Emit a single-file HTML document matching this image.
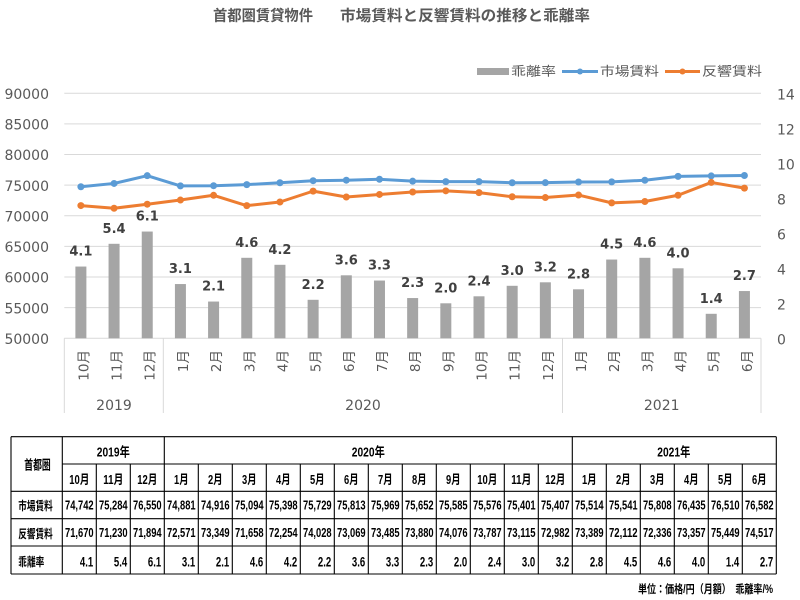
<!DOCTYPE html>
<html><head><meta charset="utf-8"><style>
html,body{margin:0;padding:0;background:#fff;}
svg{display:block;}
</style></head><body>
<svg width="800" height="600" viewBox="0 0 800 600" xmlns="http://www.w3.org/2000/svg">
<rect x="0" y="0" width="800" height="600" fill="#fff"/>
<!-- Title -->
<g font-family="'Liberation Sans','Noto Sans CJK JP',sans-serif" font-weight="bold" font-size="15" fill="#595959">
<text x="213" y="20.5" textLength="100" lengthAdjust="spacingAndGlyphs">首都圏賃貸物件</text>
<text x="340" y="20.5" textLength="250" lengthAdjust="spacingAndGlyphs">市場賃料と反響賃料の推移と乖離率</text>
</g>
<!-- Legend -->
<g font-family="'Liberation Sans','Noto Sans CJK JP',sans-serif" font-size="12.5" fill="#595959">
<rect x="477" y="68" width="32" height="7" fill="#A5A5A5"/>
<text x="511" y="75.5" textLength="45" lengthAdjust="spacingAndGlyphs">乖離率</text>
<line x1="562" y1="71.5" x2="598" y2="71.5" stroke="#5B9BD5" stroke-width="3"/>
<circle cx="580" cy="71.5" r="3" fill="#5B9BD5"/>
<text x="600" y="75.5" textLength="59" lengthAdjust="spacingAndGlyphs">市場賃料</text>
<line x1="665" y1="71.5" x2="700" y2="71.5" stroke="#ED7D31" stroke-width="3"/>
<circle cx="682.5" cy="71.5" r="3" fill="#ED7D31"/>
<text x="702" y="75.5" textLength="60" lengthAdjust="spacingAndGlyphs">反響賃料</text>
</g>
<!-- Gridlines -->
<g stroke="#D9D9D9" stroke-width="1">
<line x1="64.3" y1="93.3" x2="761" y2="93.3"/>
<line x1="64.3" y1="123.9" x2="761" y2="123.9"/>
<line x1="64.3" y1="154.55" x2="761" y2="154.55"/>
<line x1="64.3" y1="185.18" x2="761" y2="185.18"/>
<line x1="64.3" y1="215.8" x2="761" y2="215.8"/>
<line x1="64.3" y1="246.43" x2="761" y2="246.43"/>
<line x1="64.3" y1="277.05" x2="761" y2="277.05"/>
<line x1="64.3" y1="307.68" x2="761" y2="307.68"/>
<line x1="64.3" y1="338.3" x2="761" y2="338.3"/>
<line x1="64.3" y1="338.3" x2="64.3" y2="413"/>
<line x1="163.3" y1="338.3" x2="163.3" y2="413"/>
<line x1="562.5" y1="338.3" x2="562.5" y2="413"/>
<line x1="761" y1="338.3" x2="761" y2="413"/>
</g>
<!-- Left axis labels -->
<g font-family="'DejaVu Sans',sans-serif" font-size="14" fill="#595959" text-anchor="end">
<text x="49" y="99">90000</text>
<text x="49" y="129.6">85000</text>
<text x="49" y="160.2">80000</text>
<text x="49" y="190.8">75000</text>
<text x="49" y="221.4">70000</text>
<text x="49" y="252">65000</text>
<text x="49" y="282.7">60000</text>
<text x="49" y="313.3">55000</text>
<text x="49" y="343.9">50000</text>
</g>
<!-- Right axis labels -->
<g font-family="'DejaVu Sans',sans-serif" font-size="14" fill="#595959">
<text x="777" y="99.3">14</text>
<text x="777" y="134.3">12</text>
<text x="777" y="169.3">10</text>
<text x="777" y="204.3">8</text>
<text x="777" y="239.3">6</text>
<text x="777" y="274.3">4</text>
<text x="777" y="309.3">2</text>
<text x="777" y="344.3">0</text>
</g>
<!-- Bars -->
<g fill="#A5A5A5">
<rect x="75.39" y="266.55" width="11" height="71.75"/>
<rect x="108.56" y="243.8" width="11" height="94.5"/>
<rect x="141.74" y="231.55" width="11" height="106.75"/>
<rect x="174.92" y="284.05" width="11" height="54.25"/>
<rect x="208.09" y="301.55" width="11" height="36.75"/>
<rect x="241.27" y="257.8" width="11" height="80.5"/>
<rect x="274.44" y="264.8" width="11" height="73.5"/>
<rect x="307.62" y="299.8" width="11" height="38.5"/>
<rect x="340.8" y="275.3" width="11" height="63"/>
<rect x="373.97" y="280.55" width="11" height="57.75"/>
<rect x="407.15" y="298.05" width="11" height="40.25"/>
<rect x="440.32" y="303.3" width="11" height="35"/>
<rect x="473.5" y="296.3" width="11" height="42"/>
<rect x="506.68" y="285.8" width="11" height="52.5"/>
<rect x="539.85" y="282.3" width="11" height="56"/>
<rect x="573.03" y="289.3" width="11" height="49"/>
<rect x="606.2" y="259.55" width="11" height="78.75"/>
<rect x="639.38" y="257.8" width="11" height="80.5"/>
<rect x="672.56" y="268.3" width="11" height="70"/>
<rect x="705.73" y="313.8" width="11" height="24.5"/>
<rect x="738.91" y="291.05" width="11" height="47.25"/>
</g>
<!-- Bar labels -->
<g font-family="'DejaVu Sans',sans-serif" font-weight="bold" font-size="13" fill="#404040" text-anchor="middle">
<text x="80.89" y="255.5">4.1</text>
<text x="114.06" y="232.8">5.4</text>
<text x="147.24" y="220.5">6.1</text>
<text x="180.42" y="273">3.1</text>
<text x="213.59" y="290.5">2.1</text>
<text x="246.77" y="246.8">4.6</text>
<text x="279.94" y="253.8">4.2</text>
<text x="313.12" y="288.8">2.2</text>
<text x="346.3" y="264.3">3.6</text>
<text x="379.47" y="269.5">3.3</text>
<text x="412.65" y="287">2.3</text>
<text x="445.82" y="292.3">2.0</text>
<text x="479" y="285.3">2.4</text>
<text x="512.18" y="274.8">3.0</text>
<text x="545.35" y="271.3">3.2</text>
<text x="578.53" y="278.3">2.8</text>
<text x="611.7" y="248.5">4.5</text>
<text x="644.88" y="246.8">4.6</text>
<text x="678.06" y="257.3">4.0</text>
<text x="711.23" y="302.8">1.4</text>
<text x="744.41" y="280">2.7</text>
</g>
<!-- Lines -->
<polyline fill="none" stroke="#5B9BD5" stroke-width="3" stroke-linejoin="round" points="80.89,186.76 114.06,183.44 147.24,175.68 180.42,185.9 213.59,185.69 246.77,184.6 279.94,182.74 313.12,180.71 346.3,180.2 379.47,179.24 412.65,181.18 445.82,181.59 479,181.65 512.18,182.72 545.35,182.68 578.53,182.03 611.7,181.86 644.88,180.23 678.06,176.39 711.23,175.93 744.41,175.49"/>
<g fill="#5B9BD5">
<circle cx="80.89" cy="186.76" r="3.5"/><circle cx="114.06" cy="183.44" r="3.5"/><circle cx="147.24" cy="175.68" r="3.5"/><circle cx="180.42" cy="185.9" r="3.5"/><circle cx="213.59" cy="185.69" r="3.5"/><circle cx="246.77" cy="184.6" r="3.5"/><circle cx="279.94" cy="182.74" r="3.5"/><circle cx="313.12" cy="180.71" r="3.5"/><circle cx="346.3" cy="180.2" r="3.5"/><circle cx="379.47" cy="179.24" r="3.5"/><circle cx="412.65" cy="181.18" r="3.5"/><circle cx="445.82" cy="181.59" r="3.5"/><circle cx="479" cy="181.65" r="3.5"/><circle cx="512.18" cy="182.72" r="3.5"/><circle cx="545.35" cy="182.68" r="3.5"/><circle cx="578.53" cy="182.03" r="3.5"/><circle cx="611.7" cy="181.86" r="3.5"/><circle cx="644.88" cy="180.23" r="3.5"/><circle cx="678.06" cy="176.39" r="3.5"/><circle cx="711.23" cy="175.93" r="3.5"/><circle cx="744.41" cy="175.49" r="3.5"/>
</g>
<polyline fill="none" stroke="#ED7D31" stroke-width="3" stroke-linejoin="round" points="80.89,205.57 114.06,208.27 147.24,204.2 180.42,200.05 213.59,195.29 246.77,205.64 279.94,201.99 313.12,191.13 346.3,197 379.47,194.45 412.65,192.03 445.82,190.83 479,192.6 512.18,196.72 545.35,197.54 578.53,195.04 611.7,202.86 644.88,201.49 678.06,195.24 711.23,182.42 744.41,188.13"/>
<g fill="#ED7D31">
<circle cx="80.89" cy="205.57" r="3.5"/><circle cx="114.06" cy="208.27" r="3.5"/><circle cx="147.24" cy="204.2" r="3.5"/><circle cx="180.42" cy="200.05" r="3.5"/><circle cx="213.59" cy="195.29" r="3.5"/><circle cx="246.77" cy="205.64" r="3.5"/><circle cx="279.94" cy="201.99" r="3.5"/><circle cx="313.12" cy="191.13" r="3.5"/><circle cx="346.3" cy="197" r="3.5"/><circle cx="379.47" cy="194.45" r="3.5"/><circle cx="412.65" cy="192.03" r="3.5"/><circle cx="445.82" cy="190.83" r="3.5"/><circle cx="479" cy="192.6" r="3.5"/><circle cx="512.18" cy="196.72" r="3.5"/><circle cx="545.35" cy="197.54" r="3.5"/><circle cx="578.53" cy="195.04" r="3.5"/><circle cx="611.7" cy="202.86" r="3.5"/><circle cx="644.88" cy="201.49" r="3.5"/><circle cx="678.06" cy="195.24" r="3.5"/><circle cx="711.23" cy="182.42" r="3.5"/><circle cx="744.41" cy="188.13" r="3.5"/>
</g>
<!-- Month axis labels -->
<g font-family="'DejaVu Sans','Noto Sans CJK JP',sans-serif" font-size="13.5" fill="#595959" text-anchor="end">
<text transform="translate(88.4,350) rotate(-90)">10月</text>
<text transform="translate(121.6,350) rotate(-90)">11月</text>
<text transform="translate(154.7,350) rotate(-90)">12月</text>
<text transform="translate(187.9,350) rotate(-90)">1月</text>
<text transform="translate(221.1,350) rotate(-90)">2月</text>
<text transform="translate(254.3,350) rotate(-90)">3月</text>
<text transform="translate(287.4,350) rotate(-90)">4月</text>
<text transform="translate(320.6,350) rotate(-90)">5月</text>
<text transform="translate(353.8,350) rotate(-90)">6月</text>
<text transform="translate(387,350) rotate(-90)">7月</text>
<text transform="translate(420.1,350) rotate(-90)">8月</text>
<text transform="translate(453.3,350) rotate(-90)">9月</text>
<text transform="translate(486.5,350) rotate(-90)">10月</text>
<text transform="translate(519.7,350) rotate(-90)">11月</text>
<text transform="translate(552.8,350) rotate(-90)">12月</text>
<text transform="translate(586,350) rotate(-90)">1月</text>
<text transform="translate(619.2,350) rotate(-90)">2月</text>
<text transform="translate(652.4,350) rotate(-90)">3月</text>
<text transform="translate(685.6,350) rotate(-90)">4月</text>
<text transform="translate(718.7,350) rotate(-90)">5月</text>
<text transform="translate(751.9,350) rotate(-90)">6月</text>
</g>
<g font-family="'DejaVu Sans',sans-serif" font-size="14" fill="#595959" text-anchor="middle">
<text x="114" y="410">2019</text>
<text x="363" y="410">2020</text>
<text x="661.7" y="410">2021</text>
</g>
<!-- Table lines -->
<g stroke="#000" stroke-width="1.1">
<line x1="11" y1="436.7" x2="776.3" y2="436.7"/>
<line x1="62.3" y1="464" x2="776.3" y2="464"/>
<line x1="11" y1="491.3" x2="776.3" y2="491.3"/>
<line x1="11" y1="518.7" x2="776.3" y2="518.7"/>
<line x1="11" y1="546" x2="776.3" y2="546"/>
<line x1="11" y1="574" x2="776.3" y2="574"/>
<line x1="11" y1="436.7" x2="11" y2="574"/>
<line x1="62.3" y1="436.7" x2="62.3" y2="574"/>
<line x1="164.3" y1="436.7" x2="164.3" y2="574"/>
<line x1="572.3" y1="436.7" x2="572.3" y2="574"/>
<line x1="776.3" y1="436.7" x2="776.3" y2="574"/>
<line x1="96.3" y1="464" x2="96.3" y2="574"/>
<line x1="130.3" y1="464" x2="130.3" y2="574"/>
<line x1="198.3" y1="464" x2="198.3" y2="574"/>
<line x1="232.3" y1="464" x2="232.3" y2="574"/>
<line x1="266.3" y1="464" x2="266.3" y2="574"/>
<line x1="300.3" y1="464" x2="300.3" y2="574"/>
<line x1="334.3" y1="464" x2="334.3" y2="574"/>
<line x1="368.3" y1="464" x2="368.3" y2="574"/>
<line x1="402.3" y1="464" x2="402.3" y2="574"/>
<line x1="436.3" y1="464" x2="436.3" y2="574"/>
<line x1="470.3" y1="464" x2="470.3" y2="574"/>
<line x1="504.3" y1="464" x2="504.3" y2="574"/>
<line x1="538.3" y1="464" x2="538.3" y2="574"/>
<line x1="606.3" y1="464" x2="606.3" y2="574"/>
<line x1="640.3" y1="464" x2="640.3" y2="574"/>
<line x1="674.3" y1="464" x2="674.3" y2="574"/>
<line x1="708.3" y1="464" x2="708.3" y2="574"/>
<line x1="742.3" y1="464" x2="742.3" y2="574"/>
</g>
<!-- Table header text -->
<g font-family="'Liberation Sans Narrow','Liberation Sans','Noto Sans CJK JP',sans-serif" font-weight="bold" font-size="13" fill="#000" text-anchor="middle">
<text x="37.5" y="469.5" textLength="26.5" lengthAdjust="spacingAndGlyphs">首都圏</text>
<text x="113.3" y="456.7" textLength="33" lengthAdjust="spacingAndGlyphs">2019年</text>
<text x="368.3" y="456.7" textLength="33" lengthAdjust="spacingAndGlyphs">2020年</text>
<text x="673.8" y="456.7" textLength="33" lengthAdjust="spacingAndGlyphs">2021年</text>
<text x="79.3" y="484" textLength="20" lengthAdjust="spacingAndGlyphs">10月</text>
<text x="113.3" y="484" textLength="20" lengthAdjust="spacingAndGlyphs">11月</text>
<text x="147.3" y="484" textLength="20" lengthAdjust="spacingAndGlyphs">12月</text>
<text x="181.3" y="484" textLength="14.5" lengthAdjust="spacingAndGlyphs">1月</text>
<text x="215.3" y="484" textLength="14.5" lengthAdjust="spacingAndGlyphs">2月</text>
<text x="249.3" y="484" textLength="14.5" lengthAdjust="spacingAndGlyphs">3月</text>
<text x="283.3" y="484" textLength="14.5" lengthAdjust="spacingAndGlyphs">4月</text>
<text x="317.3" y="484" textLength="14.5" lengthAdjust="spacingAndGlyphs">5月</text>
<text x="351.3" y="484" textLength="14.5" lengthAdjust="spacingAndGlyphs">6月</text>
<text x="385.3" y="484" textLength="14.5" lengthAdjust="spacingAndGlyphs">7月</text>
<text x="419.3" y="484" textLength="14.5" lengthAdjust="spacingAndGlyphs">8月</text>
<text x="453.3" y="484" textLength="14.5" lengthAdjust="spacingAndGlyphs">9月</text>
<text x="487.3" y="484" textLength="20" lengthAdjust="spacingAndGlyphs">10月</text>
<text x="521.3" y="484" textLength="20" lengthAdjust="spacingAndGlyphs">11月</text>
<text x="555.3" y="484" textLength="20" lengthAdjust="spacingAndGlyphs">12月</text>
<text x="589.3" y="484" textLength="14.5" lengthAdjust="spacingAndGlyphs">1月</text>
<text x="623.3" y="484" textLength="14.5" lengthAdjust="spacingAndGlyphs">2月</text>
<text x="657.3" y="484" textLength="14.5" lengthAdjust="spacingAndGlyphs">3月</text>
<text x="691.3" y="484" textLength="14.5" lengthAdjust="spacingAndGlyphs">4月</text>
<text x="725.3" y="484" textLength="14.5" lengthAdjust="spacingAndGlyphs">5月</text>
<text x="759.3" y="484" textLength="14.5" lengthAdjust="spacingAndGlyphs">6月</text>
</g>
<!-- Row labels -->
<g font-family="'Liberation Sans','Noto Sans CJK JP',sans-serif" font-weight="bold" font-size="12" fill="#000">
<text x="18.3" y="510" textLength="34.4" lengthAdjust="spacingAndGlyphs">市場賃料</text>
<text x="18.3" y="538" textLength="34.4" lengthAdjust="spacingAndGlyphs">反響賃料</text>
<text x="18.3" y="566" textLength="26" lengthAdjust="spacingAndGlyphs">乖離率</text>
</g>
<!-- Row 1 values -->
<g font-family="'Liberation Sans Narrow','Liberation Sans',sans-serif" font-weight="bold" font-size="13" fill="#000" text-anchor="middle">
<text x="79.3" y="509.5" textLength="28.6" lengthAdjust="spacingAndGlyphs">74,742</text>
<text x="113.3" y="509.5" textLength="28.6" lengthAdjust="spacingAndGlyphs">75,284</text>
<text x="147.3" y="509.5" textLength="28.6" lengthAdjust="spacingAndGlyphs">76,550</text>
<text x="181.3" y="509.5" textLength="28.6" lengthAdjust="spacingAndGlyphs">74,881</text>
<text x="215.3" y="509.5" textLength="28.6" lengthAdjust="spacingAndGlyphs">74,916</text>
<text x="249.3" y="509.5" textLength="28.6" lengthAdjust="spacingAndGlyphs">75,094</text>
<text x="283.3" y="509.5" textLength="28.6" lengthAdjust="spacingAndGlyphs">75,398</text>
<text x="317.3" y="509.5" textLength="28.6" lengthAdjust="spacingAndGlyphs">75,729</text>
<text x="351.3" y="509.5" textLength="28.6" lengthAdjust="spacingAndGlyphs">75,813</text>
<text x="385.3" y="509.5" textLength="28.6" lengthAdjust="spacingAndGlyphs">75,969</text>
<text x="419.3" y="509.5" textLength="28.6" lengthAdjust="spacingAndGlyphs">75,652</text>
<text x="453.3" y="509.5" textLength="28.6" lengthAdjust="spacingAndGlyphs">75,585</text>
<text x="487.3" y="509.5" textLength="28.6" lengthAdjust="spacingAndGlyphs">75,576</text>
<text x="521.3" y="509.5" textLength="28.6" lengthAdjust="spacingAndGlyphs">75,401</text>
<text x="555.3" y="509.5" textLength="28.6" lengthAdjust="spacingAndGlyphs">75,407</text>
<text x="589.3" y="509.5" textLength="28.6" lengthAdjust="spacingAndGlyphs">75,514</text>
<text x="623.3" y="509.5" textLength="28.6" lengthAdjust="spacingAndGlyphs">75,541</text>
<text x="657.3" y="509.5" textLength="28.6" lengthAdjust="spacingAndGlyphs">75,808</text>
<text x="691.3" y="509.5" textLength="28.6" lengthAdjust="spacingAndGlyphs">76,435</text>
<text x="725.3" y="509.5" textLength="28.6" lengthAdjust="spacingAndGlyphs">76,510</text>
<text x="759.3" y="509.5" textLength="28.6" lengthAdjust="spacingAndGlyphs">76,582</text>
</g>
<!-- Row 2 values -->
<g font-family="'Liberation Sans Narrow','Liberation Sans',sans-serif" font-weight="bold" font-size="13" fill="#000" text-anchor="middle">
<text x="79.3" y="536.8" textLength="28.6" lengthAdjust="spacingAndGlyphs">71,670</text>
<text x="113.3" y="536.8" textLength="28.6" lengthAdjust="spacingAndGlyphs">71,230</text>
<text x="147.3" y="536.8" textLength="28.6" lengthAdjust="spacingAndGlyphs">71,894</text>
<text x="181.3" y="536.8" textLength="28.6" lengthAdjust="spacingAndGlyphs">72,571</text>
<text x="215.3" y="536.8" textLength="28.6" lengthAdjust="spacingAndGlyphs">73,349</text>
<text x="249.3" y="536.8" textLength="28.6" lengthAdjust="spacingAndGlyphs">71,658</text>
<text x="283.3" y="536.8" textLength="28.6" lengthAdjust="spacingAndGlyphs">72,254</text>
<text x="317.3" y="536.8" textLength="28.6" lengthAdjust="spacingAndGlyphs">74,028</text>
<text x="351.3" y="536.8" textLength="28.6" lengthAdjust="spacingAndGlyphs">73,069</text>
<text x="385.3" y="536.8" textLength="28.6" lengthAdjust="spacingAndGlyphs">73,485</text>
<text x="419.3" y="536.8" textLength="28.6" lengthAdjust="spacingAndGlyphs">73,880</text>
<text x="453.3" y="536.8" textLength="28.6" lengthAdjust="spacingAndGlyphs">74,076</text>
<text x="487.3" y="536.8" textLength="28.6" lengthAdjust="spacingAndGlyphs">73,787</text>
<text x="521.3" y="536.8" textLength="28.6" lengthAdjust="spacingAndGlyphs">73,115</text>
<text x="555.3" y="536.8" textLength="28.6" lengthAdjust="spacingAndGlyphs">72,982</text>
<text x="589.3" y="536.8" textLength="28.6" lengthAdjust="spacingAndGlyphs">73,389</text>
<text x="623.3" y="536.8" textLength="28.6" lengthAdjust="spacingAndGlyphs">72,112</text>
<text x="657.3" y="536.8" textLength="28.6" lengthAdjust="spacingAndGlyphs">72,336</text>
<text x="691.3" y="536.8" textLength="28.6" lengthAdjust="spacingAndGlyphs">73,357</text>
<text x="725.3" y="536.8" textLength="28.6" lengthAdjust="spacingAndGlyphs">75,449</text>
<text x="759.3" y="536.8" textLength="28.6" lengthAdjust="spacingAndGlyphs">74,517</text>
</g>
<!-- Row 3 values -->
<g font-family="'Liberation Sans Narrow','Liberation Sans',sans-serif" font-weight="bold" font-size="14" fill="#000" text-anchor="end">
<text x="93.2" y="566.5" textLength="13.3" lengthAdjust="spacingAndGlyphs">4.1</text>
<text x="127.2" y="566.5" textLength="13.3" lengthAdjust="spacingAndGlyphs">5.4</text>
<text x="161.2" y="566.5" textLength="13.3" lengthAdjust="spacingAndGlyphs">6.1</text>
<text x="195.2" y="566.5" textLength="13.3" lengthAdjust="spacingAndGlyphs">3.1</text>
<text x="229.2" y="566.5" textLength="13.3" lengthAdjust="spacingAndGlyphs">2.1</text>
<text x="263.2" y="566.5" textLength="13.3" lengthAdjust="spacingAndGlyphs">4.6</text>
<text x="297.2" y="566.5" textLength="13.3" lengthAdjust="spacingAndGlyphs">4.2</text>
<text x="331.2" y="566.5" textLength="13.3" lengthAdjust="spacingAndGlyphs">2.2</text>
<text x="365.2" y="566.5" textLength="13.3" lengthAdjust="spacingAndGlyphs">3.6</text>
<text x="399.2" y="566.5" textLength="13.3" lengthAdjust="spacingAndGlyphs">3.3</text>
<text x="433.2" y="566.5" textLength="13.3" lengthAdjust="spacingAndGlyphs">2.3</text>
<text x="467.2" y="566.5" textLength="13.3" lengthAdjust="spacingAndGlyphs">2.0</text>
<text x="501.2" y="566.5" textLength="13.3" lengthAdjust="spacingAndGlyphs">2.4</text>
<text x="535.2" y="566.5" textLength="13.3" lengthAdjust="spacingAndGlyphs">3.0</text>
<text x="569.2" y="566.5" textLength="13.3" lengthAdjust="spacingAndGlyphs">3.2</text>
<text x="603.2" y="566.5" textLength="13.3" lengthAdjust="spacingAndGlyphs">2.8</text>
<text x="637.2" y="566.5" textLength="13.3" lengthAdjust="spacingAndGlyphs">4.5</text>
<text x="671.2" y="566.5" textLength="13.3" lengthAdjust="spacingAndGlyphs">4.6</text>
<text x="705.2" y="566.5" textLength="13.3" lengthAdjust="spacingAndGlyphs">4.0</text>
<text x="739.2" y="566.5" textLength="13.3" lengthAdjust="spacingAndGlyphs">1.4</text>
<text x="773.2" y="566.5" textLength="13.3" lengthAdjust="spacingAndGlyphs">2.7</text>
</g>
<!-- Footnote -->
<text x="638" y="593" font-family="'Liberation Sans','Noto Sans CJK JP',sans-serif" font-weight="bold" font-size="11.5" fill="#000" textLength="135" lengthAdjust="spacingAndGlyphs">単位：価格/円（月額）　乖離率/%</text>
</svg>
</body></html>
